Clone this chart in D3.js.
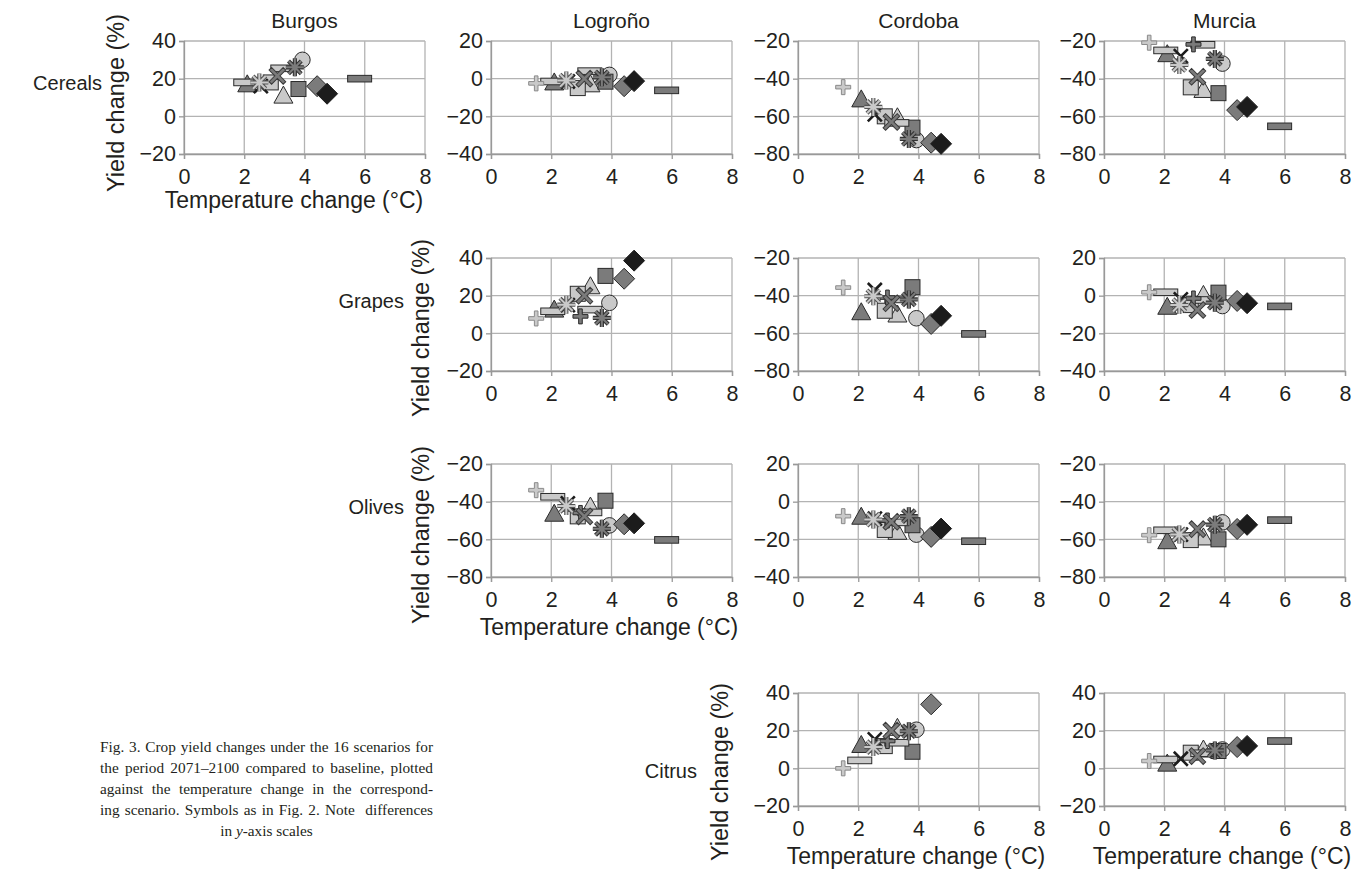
<!DOCTYPE html>
<html><head><meta charset="utf-8">
<script src="https://cdn.jsdelivr.net/npm/d3@7"></script>
<style>
body{margin:0;background:#fff;}
svg{display:block;position:absolute;left:0;top:0;}
.cap{position:absolute;left:100px;top:736px;width:333px;font-family:"Liberation Serif","DejaVu Serif",serif;font-size:15.3px;line-height:21px;color:#231f20;}
.cap div{text-align:justify;text-align-last:justify;}
.cap div.last{text-align:center;text-align-last:center;}
</style></head>
<body>
<div id="chart"></div>
<div class="cap">
<div>Fig. 3. Crop yield changes under the 16 scenarios for</div>
<div>the period 2071–2100 compared to baseline, plotted</div>
<div>against the temperature change in the correspond-</div>
<div>ing scenario. Symbols as in Fig. 2. Note&nbsp; differences</div>
<div class="last">in <i>y</i>-axis scales</div>
</div>
<script>
// ---- data ----
const regions = ["Burgos", "Logroño", "Cordoba", "Murcia"];
const crops = ["Cereals", "Grapes", "Olives", "Citrus"];
const xTicks = [0, 2, 4, 6, 8];
// temperature change (°C) of the 16 scenarios
const scenarioTemps = [1.5, 2.05, 2.1, 2.55, 2.5, 2.88, 2.97, 3.28, 3.1, 3.3, 3.68, 3.8, 3.93, 4.42, 4.75, 5.83];
// yield change (%) per scenario; null = not shown in panel
const cerealsBurgos  = [null, 18, 17, 16, 18, 18, null, 25.5, 21.5, 11, 26, 14.5, 30, 16, 12, 20];
const cerealsLogrono = [-2.5, -1.5, -2, -1.5, -1, -5, null, 4, 0, -3, 0.7, -1.6, 2, -4, -1.3, -6.2];
const cerealsCordoba = [-44.5, null, -51, -59, -55, -60, null, -63.5, -63, -60.5, -72, -66, -72.6, -74, -74.6, null];
const cerealsMurcia  = [-20.9, -25, -27, -28, -32.7, -44.6, -21.8, -22, -39, -46, -29.5, -47.7, -32, -56.7, -55, -65.3];
const grapesLogrono  = [7.9, 11.7, 12.6, 15, 15.2, 21, 9, 12.6, 20, 25, 8.2, 30.5, 16.2, 29, 38.6, null];
const grapesCordoba  = [-35.7, null, -48.8, -37, -40.3, -48, -41, -42, -44, -50, -42, -35.5, -52, -55, -50.7, -60.3];
const grapesMurcia   = [1.8, 1.8, -5.9, -2, -5, -5, -1.5, -2.3, -7.6, 0.4, -3.7, 1.6, -5.5, -2.8, -4, -5.7];
const olivesLogrono  = [-33.9, -37.4, -46.4, -40.9, -42.3, -47.8, -46, -45.7, -47.8, -42.6, -54.4, -39.5, -52.6, -52, -51.5, -60.3];
const olivesCordoba  = [-7.7, null, -8, -9, -9.5, -15, -10, -11, -10.7, -16, -7.7, -12.5, -17.5, -18.7, -14.3, -21];
const olivesMurcia   = [-57.8, -55.2, -61, -57.5, -57.4, -60.4, null, null, -54.6, -59, -52.2, -60, -51, -54.5, -52.3, -49.8];
const citrusCordoba  = [0, 4.2, 12.4, 15.4, 11.3, 11.8, 14.5, 13.6, 20, 21.5, 19.7, 8.8, 20.5, 34, null, null];
const citrusMurcia   = [3.9, 4.7, 2.5, 5.1, null, 8.3, null, 8, 6.5, 10, 9.5, 9.2, 10, 11.3, 11.9, 14.5];

// panels: crop row, region column, y range
const panels = [
  {crop: 0, region: 0, yields: cerealsBurgos,  yRange: [-20, 40]},
  {crop: 0, region: 1, yields: cerealsLogrono, yRange: [-40, 20]},
  {crop: 0, region: 2, yields: cerealsCordoba, yRange: [-80, -20]},
  {crop: 0, region: 3, yields: cerealsMurcia,  yRange: [-80, -20]},
  {crop: 1, region: 1, yields: grapesLogrono,  yRange: [-20, 40]},
  {crop: 1, region: 2, yields: grapesCordoba,  yRange: [-80, -20]},
  {crop: 1, region: 3, yields: grapesMurcia,   yRange: [-40, 20]},
  {crop: 2, region: 1, yields: olivesLogrono,  yRange: [-80, -20]},
  {crop: 2, region: 2, yields: olivesCordoba,  yRange: [-40, 20]},
  {crop: 2, region: 3, yields: olivesMurcia,   yRange: [-80, -20]},
  {crop: 3, region: 2, yields: citrusCordoba,  yRange: [-20, 40]},
  {crop: 3, region: 3, yields: citrusMurcia,   yRange: [-20, 40]}
];

// ---- layout & styles ----
const colX = [184, 491, 798, 1104];
const rowY = [41, 258, 464, 693];
const W = 241, H = 113;
const FONT = "'Liberation Sans', Arial, Helvetica, sans-serif";
const TXT = "#231f20";
const LIGHT = "#c9c9c9", DARK = "#7b7b7b", BLACK = "#1c1c1c", EDGE = "#2a2a2a";
const markerStyle = [
  {shape: "plus", fill: LIGHT, stroke: "#8a8a8a"},
  {shape: "bar", fill: LIGHT, stroke: EDGE},
  {shape: "tri", fill: DARK, stroke: EDGE},
  {shape: "x", fill: BLACK, stroke: BLACK, thin: true},
  {shape: "ast", fill: LIGHT, stroke: "#555"},
  {shape: "sq", fill: LIGHT, stroke: EDGE},
  {shape: "plus", fill: DARK, stroke: EDGE},
  {shape: "bar", fill: LIGHT, stroke: EDGE},
  {shape: "x", fill: DARK, stroke: "#3a3a3a"},
  {shape: "tri", fill: LIGHT, stroke: EDGE},
  {shape: "ast", fill: DARK, stroke: "#333"},
  {shape: "sq", fill: DARK, stroke: EDGE},
  {shape: "circ", fill: LIGHT, stroke: EDGE},
  {shape: "dia", fill: DARK, stroke: EDGE},
  {shape: "dia", fill: BLACK, stroke: BLACK},
  {shape: "bar", fill: DARK, stroke: EDGE}
];
const drawOrder = [15, 2, 9, 12, 11, 5, 1, 7, 13, 14, 0, 6, 3, 8, 4, 10];

function plusPath(a, t) {
  return `M${-t},${-a}H${t}V${-t}H${a}V${t}H${t}V${a}H${-t}V${t}H${-a}V${-t}H${-t}Z`;
}

function drawMarker(g, st) {
  switch (st.shape) {
    case "sq":
      g.append("rect").attr("x", -7.5).attr("y", -7.5).attr("width", 15).attr("height", 15)
        .attr("fill", st.fill).attr("stroke", st.stroke).attr("stroke-width", 1);
      break;
    case "bar":
      g.append("rect").attr("x", -12).attr("y", -3.3).attr("width", 24).attr("height", 6.6)
        .attr("fill", st.fill).attr("stroke", st.stroke).attr("stroke-width", 1);
      break;
    case "dia":
      g.append("path").attr("d", "M0,-10.5L10.5,0L0,10.5L-10.5,0Z")
        .attr("fill", st.fill).attr("stroke", st.stroke).attr("stroke-width", 1);
      break;
    case "tri":
      g.append("path").attr("d", "M0,-9.5L9.5,7.5L-9.5,7.5Z")
        .attr("fill", st.fill).attr("stroke", st.stroke).attr("stroke-width", 1);
      break;
    case "circ":
      g.append("circle").attr("r", 7.8)
        .attr("fill", st.fill).attr("stroke", st.stroke).attr("stroke-width", 1);
      break;
    case "plus":
      g.append("path").attr("d", plusPath(7.5, 1.8))
        .attr("fill", st.fill).attr("stroke", st.stroke).attr("stroke-width", 1);
      break;
    case "x":
      if (st.thin) {
        g.append("path").attr("d", "M-7,-7L7,7M-7,7L7,-7")
          .attr("stroke", st.fill).attr("stroke-width", 2.6).attr("fill", "none");
      } else {
        g.append("path").attr("d", plusPath(10, 1.8)).attr("transform", "rotate(45)")
          .attr("fill", st.fill).attr("stroke", st.stroke).attr("stroke-width", 1);
      }
      break;
    case "ast": {
      const L = 9;
      const d = [0, 45, 90, 135].map(a => {
        const r = a * Math.PI / 180;
        const dx = L * Math.sin(r), dy = -L * Math.cos(r);
        return `M${-dx},${-dy}L${dx},${dy}`;
      }).join("");
      g.append("path").attr("d", d).attr("stroke", st.stroke).attr("stroke-width", 4.2).attr("fill", "none");
      g.append("path").attr("d", d).attr("stroke", st.fill).attr("stroke-width", 2).attr("fill", "none");
      break;
    }
  }
}

const svg = d3.select("#chart").append("svg").attr("width", 1360).attr("height", 873)
  .style("font-family", FONT);

const x = d3.scaleLinear().domain([0, 8]).range([0, W]);

panels.forEach(p => {
  const g = svg.append("g").attr("transform", `translate(${colX[p.region]},${rowY[p.crop]})`);
  const y = d3.scaleLinear().domain(p.yRange).range([H, 0]);
  const yTicks = d3.range(p.yRange[0], p.yRange[1] + 1, 20);

  g.append("g").selectAll("line").data(xTicks).join("line")
    .attr("x1", d => x(d)).attr("x2", d => x(d)).attr("y1", 0).attr("y2", H)
    .attr("stroke", "#b3b3b3").attr("stroke-width", 1.3);
  g.append("g").selectAll("line").data(yTicks).join("line")
    .attr("x1", 0).attr("x2", W).attr("y1", d => y(d)).attr("y2", d => y(d))
    .attr("stroke", "#b3b3b3").attr("stroke-width", 1.3);

  const ax = g.append("g").attr("transform", `translate(0,${H})`)
    .call(d3.axisBottom(x).tickValues(xTicks).tickSize(5).tickPadding(10).tickFormat(d3.format("d")));
  const ay = g.append("g")
    .call(d3.axisLeft(y).tickValues(yTicks).tickSize(5).tickPadding(3).tickFormat(d => d < 0 ? "\u2212" + Math.abs(d) : d));
  [ax, ay].forEach(a => {
    a.select(".domain").attr("stroke", "#999").attr("stroke-width", 1.3);
    a.selectAll(".tick line").attr("stroke", "#999").attr("stroke-width", 1.3);
    a.selectAll("text").attr("fill", TXT).style("font-size", "21.5px").style("font-family", FONT);
  });

  drawOrder.forEach(i => {
    const v = p.yields[i];
    if (v === null || v === undefined) return;
    const mg = g.append("g").attr("transform", `translate(${x(scenarioTemps[i])},${y(v)})`);
    drawMarker(mg, markerStyle[i]);
  });
});

// column titles
regions.forEach((r, i) => {
  svg.append("text").attr("x", colX[i] + W / 2).attr("y", 28).attr("text-anchor", "middle")
    .attr("fill", TXT).style("font-size", "21px").text(r);
});

// row labels (right-aligned)
const rowLabelPos = [[102, 90], [404, 308], [404, 514], [697, 778]];
crops.forEach((c, i) => {
  svg.append("text").attr("x", rowLabelPos[i][0]).attr("y", rowLabelPos[i][1]).attr("text-anchor", "end")
    .attr("fill", TXT).style("font-size", "20px").text(c);
});

// y axis titles
const yTitlePos = [[124, 103], [429, 328], [429, 535], [728, 772]];
yTitlePos.forEach(([tx, ty]) => {
  svg.append("text").attr("transform", `translate(${tx},${ty}) rotate(-90)`).attr("text-anchor", "middle")
    .attr("fill", TXT).style("font-size", "23.5px").text("Yield change (%)");
});
// x axis titles
const xTitlePos = [[colX[0] + 110, 208], [colX[1] + 118, 635], [colX[2] + 118, 864], [colX[3] + 118, 864]];
xTitlePos.forEach(([tx, ty]) => {
  svg.append("text").attr("x", tx).attr("y", ty).attr("text-anchor", "middle")
    .attr("fill", TXT).style("font-size", "23px").text("Temperature change (°C)");
});
</script>
</body></html>
